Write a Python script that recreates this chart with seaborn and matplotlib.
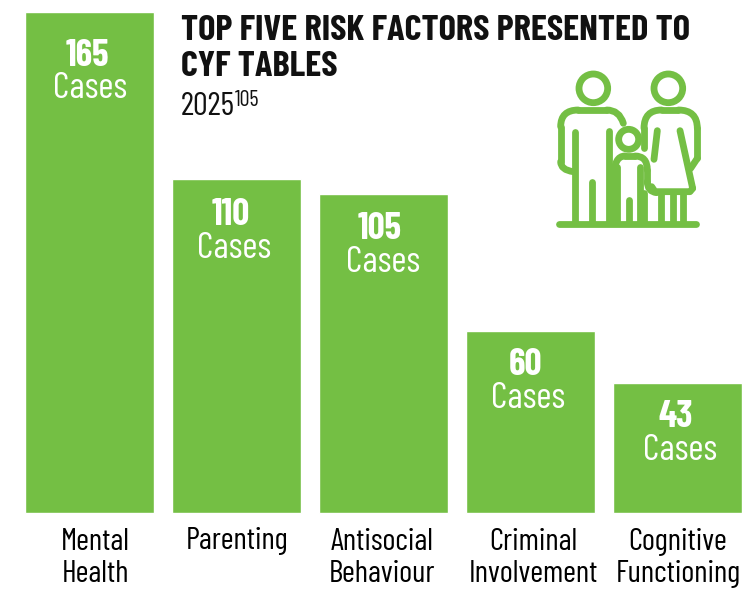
import matplotlib
matplotlib.use("Agg")
import matplotlib.pyplot as plt
import seaborn as sns
import pandas as pd
from matplotlib.patches import Circle, PathPatch
from matplotlib.path import Path

categories = ["Mental\nHealth", "Parenting", "Antisocial\nBehaviour", "Criminal\nInvolvement", "Cognitive\nFunctioning"]
cases = [165, 110, 105, 60, 43]
GREEN = "#74BF44"
FONT = ["Barlow Condensed", "Liberation Sans", "DejaVu Sans"]

sns.set_theme(style="white")
plt.rcParams["font.family"] = FONT

W, H = 742, 589
fig = plt.figure(figsize=(W/100, H/100), dpi=100, facecolor="white")
ax = fig.add_axes([0, 0, 1, 1])
df = pd.DataFrame({"category": categories, "cases": cases})
sns.barplot(data=df, x="category", y="cases", color=GREEN, saturation=1, width=128.5/146.9, ax=ax)
ax.set_xlim(-89.7/146.9, (W-89.7)/146.9)
ppu = 500.5/165
ax.set_ylim(-(H-513)/ppu, 513/ppu)
ax.set_axis_off()

lab_x = [95, 237, 382, 533, 678]
val_y = [56, 215, 229, 365, 417]
val_x = [87, 231, 380, 525, 676]
case_x = [90, 234, 383, 528, 680]
for i, (c, v) in enumerate(zip(categories, cases)):
    fig.text(val_x[i]/W, 1-val_y[i]/H, str(v), color="white", fontsize=27, fontweight="bold", ha="center", va="center")
    fig.text(case_x[i]/W, 1-(val_y[i]+33)/H, "Cases", color="white", fontsize=26.5, ha="center", va="center")
    fig.text(lab_x[i]/W, 1-558/H if "\n" in c else 1-541/H, c, color="black", fontsize=22.5, ha="center", va="center", linespacing=1.22)

fig.text(181/W, 1-31/H, "TOP FIVE RISK FACTORS PRESENTED TO", fontsize=26.3, fontweight="bold", color="#111111", va="center", ha="left")
fig.text(181/W, 1-67/H, "CYF TABLES", fontsize=26.3, fontweight="bold", color="#111111", va="center", ha="left")
fig.text(181/W, 1-107/H, "2025", fontsize=23.5, color="#111111", va="center", ha="left")
fig.text(235/W, 1-100/H, "105", fontsize=16, color="#111111", va="center", ha="left")

# family pictogram, drawn in its own small axes
icon = fig.add_axes([540/W, 1-(60+175)/H, 170/W, 175/H])
icon.set_xlim(0, 510); icon.set_ylim(525, 0); icon.axis("off"); icon.patch.set_alpha(0)
LW = 4.9
def stroke(*pts):
    xs, ys = zip(*pts)
    icon.plot(xs, ys, color=GREEN, lw=LW, solid_capstyle="round", solid_joinstyle="round")
def curve(*pts):
    codes = [Path.MOVETO] + [Path.CURVE3]*(len(pts)-1)
    icon.add_patch(PathPatch(Path(pts, codes), fc="none", ec=GREEN, lw=LW, capstyle="round", joinstyle="round"))
for cx, cy, r in [(160, 85, 43), (385, 85, 43), (266, 238, 30)]:
    icon.add_patch(Circle((cx, cy), r, fc="none", ec=GREEN, lw=LW))
# father
curve((250, 190), (238, 150), (200, 150))
stroke((200, 150), (115, 150))
curve((115, 150), (62, 150), (62, 200))
stroke((62, 200), (62, 305))
curve((62, 305), (62, 330), (100, 335))
stroke((105, 215), (105, 490)); stroke((157, 365), (157, 490)); stroke((208, 212), (208, 490))
# child
curve((222, 350), (222, 288), (255, 288))
stroke((255, 288), (285, 288))
curve((285, 288), (322, 288), (322, 330))
stroke((322, 330), (322, 365))
curve((322, 365), (322, 395), (350, 398))
stroke((232, 322), (232, 490)); stroke((300, 322), (300, 490)); stroke((266, 420), (266, 490))
stroke((222, 350), (222, 490))
stroke((312, 400), (312, 490))
# mother
stroke((312, 265), (312, 205))
curve((312, 205), (312, 150), (365, 150))
stroke((365, 150), (415, 150))
curve((415, 150), (472, 150), (472, 205))
stroke((472, 205), (472, 295))
stroke((472, 295), (452, 325))
stroke((352, 212), (342, 298))
stroke((420, 212), (458, 385))
stroke((458, 385), (450, 395), (345, 395), (335, 380))
for x in (362, 398, 428):
    stroke((x, 400), (x, 490))
stroke((58, 492), (468, 492))

plt.savefig("out.png", dpi=100)
